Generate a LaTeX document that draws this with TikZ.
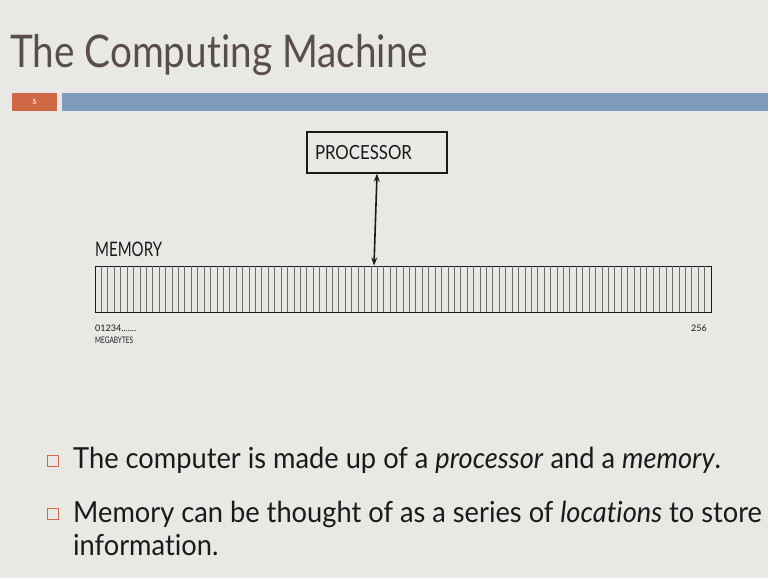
\documentclass[tikz,border=0pt]{standalone}
\usepackage{fontspec}
\setmainfont{Lato}[Ligatures=CommonOff]
\newfontfamily\titlefont{Lato}[FakeStretch=0.86, Ligatures=CommonOff]
\newfontfamily\bulletfont{Lato}[FakeStretch=0.94, Ligatures=CommonOff]
\newfontfamily\memfont{Lato}[FakeStretch=0.75]
\newfontfamily\procfont{Lato}[FakeStretch=0.86]
\newfontfamily\narrowfont{Lato}[FakeStretch=0.72]
\usetikzlibrary{arrows.meta,positioning}
\definecolor{slidebg}{HTML}{E8E9E5}
\definecolor{titlecol}{HTML}{5A4E49}
\definecolor{numorange}{HTML}{CF6844}
\definecolor{barblue}{HTML}{7F9DBA}
\definecolor{inkcol}{HTML}{1A1A1A}
\tikzset{
    bullettext/.style={anchor=base west, inner sep=0pt, text=inkcol, font=\bulletfont\fontsize{29}{33}\selectfont},
    bulletbox/.style={draw=numorange, line width=0.8pt, minimum size=11, inner sep=0pt},
    smalllabel/.style={anchor=base west, inner sep=0pt, text=inkcol, font=\fontsize{9}{10}\selectfont}
}
\begin{document}
\begin{tikzpicture}[x=1pt, y=-1pt]
    % slide background
    \fill[slidebg] (0,0) rectangle (768,578);
    \useasboundingbox (0,0) rectangle (768,578);

    % title and header bars
    \node[anchor=base west, inner sep=0pt, text=titlecol, font=\titlefont\fontsize{45}{50}\selectfont] (title) at (10,67) {The Computing Machine};
    \fill[numorange] (12,93) rectangle (57,111);
    \fill[barblue] (62,93) rectangle (768,111);
    \node[text=white!90!yellow, font=\bfseries\fontsize{7}{8}\selectfont] (slidenum) at (34.5,102) {5};

    % memory strip, 96 locations
    \node[draw=inkcol, line width=1pt, minimum width=616, minimum height=46, inner sep=0pt] (mem) at (403,289) {};
    \foreach \i in {1,...,95}
        \draw[gray!85!black, line width=0.8pt] (95+\i*6.4167,266) -- (95+\i*6.4167,312);
    \node[anchor=base west, inner sep=0pt, text=inkcol, font=\memfont\fontsize{20}{22}\selectfont] (memlabel) at (95,256) {MEMORY};
    \node[smalllabel] (addr) at (95,331) {01234.......};
    \node[smalllabel, font=\narrowfont\fontsize{9}{10}\selectfont] (unit) at (95,343) {MEGABYTES};
    \node[smalllabel, anchor=base east] (last) at (707,331) {256};

    % processor and its link to memory
    \node[draw=inkcol, line width=1.3pt, minimum height=41, text width=124, inner xsep=8, align=left, text=inkcol, font=\procfont\fontsize{19.5}{22}\selectfont] (proc) at (377,152.5) {PROCESSOR};
    \draw[{Stealth[length=8pt,width=6pt]}-{Stealth[length=8pt,width=6pt]}, line width=1.6pt, inkcol] (proc.south) -- ([xshift=-29]mem.north);

    % bullet points
    \node[bulletbox] (sq1) at (53,461) {};
    \node[bulletbox] (sq2) at (53,514) {};
    \node[bullettext] (b1) at (73,468) {The computer is made up of a \textit{processor} and a \textit{memory}.};
    \node[bullettext] (b2) at (73,522) {Memory can be thought of as a series of \textit{locations} to store};
    \node[bullettext] (b3) at (73,555) {information.};
\end{tikzpicture}
\end{document}
